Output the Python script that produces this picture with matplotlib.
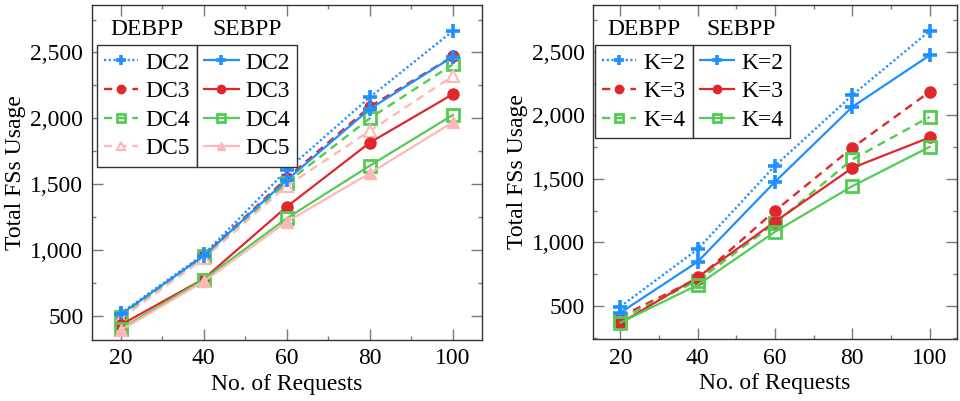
import matplotlib
matplotlib.use('Agg')
import matplotlib.pyplot as plt
from matplotlib.ticker import MultipleLocator, FuncFormatter

plt.rcParams['font.family'] = ['Liberation Serif', 'DejaVu Serif']

requests = [20, 40, 60, 80, 100]

# left panel: data centres
dc_labels = ['DC2', 'DC3', 'DC4', 'DC5']
debpp_dc = [
    [518, 965, 1607, 2160, 2663],
    [505, 958, 1545, 2088, 2470],
    [492, 950, 1510, 2000, 2410],
    [478, 935, 1486, 1904, 2321],
]
sebpp_dc = [
    [510, 955, 1531, 2071, 2468],
    [430, 780, 1328, 1815, 2183],
    [400, 775, 1240, 1640, 2025],
    [390, 760, 1214, 1582, 1970],
]

# right panel: K paths
k_labels = ['K=2', 'K=3', 'K=4']
debpp_k = [
    [495, 946, 1603, 2159, 2664],
    [416, 715, 1249, 1745, 2185],
    [400, 700, 1150, 1653, 1988],
]
sebpp_k = [
    [447, 848, 1477, 2067, 2473],
    [364, 726, 1163, 1587, 1826],
    [369, 665, 1084, 1443, 1752],
]

colors = ['#1e90ff', '#e0282c', '#52cc52', '#ffb8b8']
markers = ['+', 'o', 's', '^']
DOTTED = (0, (0.9, 1.1))
DASHED = (0, (3.5, 2.5))

FS = 17
TICK_FS = 17


def style_marker(i, open_tri):
    kw = dict(marker=markers[i], markersize=8, color=colors[i])
    if markers[i] == '+':
        kw.update(markersize=10, markeredgewidth=2.6)
    elif markers[i] == 's':
        kw.update(markerfacecolor='none', markeredgewidth=2.0, markersize=8)
    elif markers[i] == '^' and open_tri:
        kw.update(markerfacecolor='white', markeredgewidth=1.5)
    return kw


def plot_panel(ax, labels, deb, seb, ylim, anchor):
    deb_handles, seb_handles = [], []
    for i, vals in enumerate(deb):
        ls = DOTTED if i == 0 else DASHED
        h, = ax.plot(requests, vals, linestyle=ls, lw=1.7, **style_marker(i, True))
        deb_handles.append(h)
    for i, vals in enumerate(seb):
        h, = ax.plot(requests, vals, linestyle='-', lw=1.6, **style_marker(i, False))
        seb_handles.append(h)

    ax.set_xlim(13, 107)
    ax.set_ylim(*ylim)
    ax.xaxis.set_major_locator(MultipleLocator(20))
    ax.xaxis.set_minor_locator(MultipleLocator(10))
    ax.yaxis.set_major_locator(MultipleLocator(500))
    ax.yaxis.set_minor_locator(MultipleLocator(250))
    ax.yaxis.set_major_formatter(FuncFormatter(lambda v, p: f'{v:,.0f}'))
    ax.tick_params(which='both', direction='in', top=True, right=True,
                   color='#7a7a7a', width=1.0, labelsize=TICK_FS, pad=6)
    ax.tick_params(which='major', length=8)
    ax.tick_params(which='minor', length=3)
    for sp in ax.spines.values():
        sp.set_color('#333333')
        sp.set_linewidth(1.0)
    ax.set_xlabel('No. of Requests', fontsize=FS, labelpad=3)
    ax.set_ylabel('Total FSs Usage', fontsize=FS, labelpad=3)

    leg_kw = dict(loc='upper left', fontsize=FS, frameon=True, fancybox=False,
                  framealpha=1, edgecolor='#333333', borderaxespad=0,
                  handlelength=1.45, handletextpad=0.3, borderpad=0.3,
                  labelspacing=0.3, markerscale=0.75, numpoints=1)
    leg1 = ax.legend(deb_handles, labels, bbox_to_anchor=anchor, **leg_kw)
    leg1.get_frame().set_linewidth(1.0)
    ax.add_artist(leg1)
    fig.canvas.draw()
    bb = leg1.get_window_extent().transformed(ax.transAxes.inverted())
    leg2 = ax.legend(seb_handles, labels, bbox_to_anchor=(bb.x1, anchor[1]), **leg_kw)
    leg2.get_frame().set_linewidth(1.0)
    fig.canvas.draw()
    bb2 = leg2.get_window_extent().transformed(ax.transAxes.inverted())
    ax.text((bb.x0 + bb.x1) / 2, anchor[1] + 0.015, 'DEBPP', transform=ax.transAxes,
            ha='center', va='bottom', fontsize=FS)
    ax.text((bb2.x0 + bb2.x1) / 2, anchor[1] + 0.015, 'SEBPP', transform=ax.transAxes,
            ha='center', va='bottom', fontsize=FS)


fig = plt.figure(figsize=(9.6, 4.01), dpi=100)
ax1 = fig.add_axes([0.0955, 0.152, 0.4065, 0.836])
ax2 = fig.add_axes([0.618, 0.154, 0.3786, 0.834])

plot_panel(ax1, dc_labels, debpp_dc, sebpp_dc, (315, 2862), (0.014, 0.88))
plot_panel(ax2, k_labels, debpp_k, sebpp_k, (238, 2870), (0.005, 0.88))

fig.savefig('out.png', dpi=100)
